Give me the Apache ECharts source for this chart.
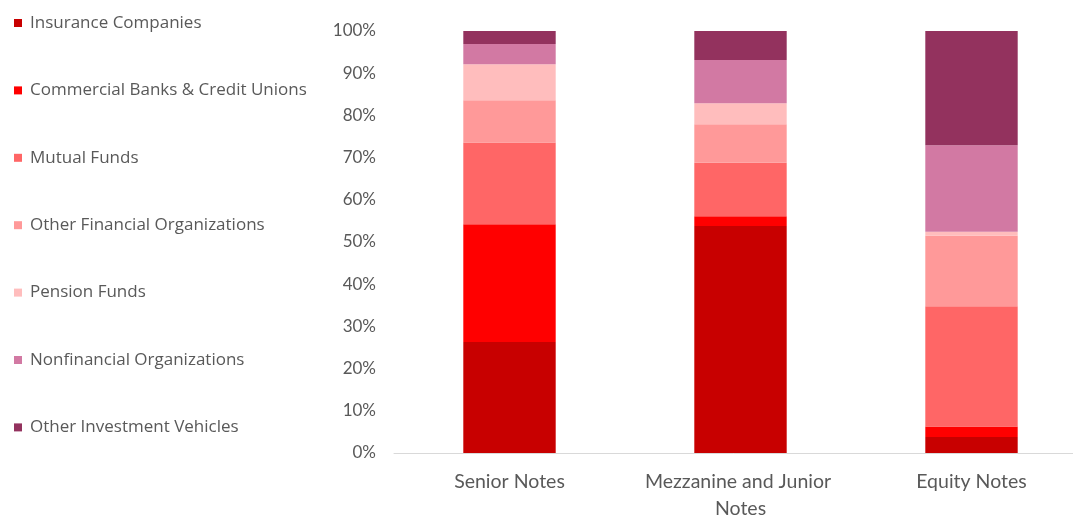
<!DOCTYPE html>
<html>
<head>
<meta charset="utf-8">
<script src="https://cdn.jsdelivr.net/npm/echarts@6/dist/echarts.min.js"></script>
<style>
  html, body { margin: 0; padding: 0; background: #ffffff; }
  #chart { width: 1073px; height: 515px; }
</style>
</head>
<body>
<div id="chart"></div>
<script>
// Holder shares (%) of each note class, stacked to 100%
const categories = ['Senior Notes', 'Mezzanine and Junior Notes', 'Equity Notes'];
const seriesNames = [
  'Insurance Companies',
  'Commercial Banks & Credit Unions',
  'Mutual Funds',
  'Other Financial Organizations',
  'Pension Funds',
  'Nonfinancial Organizations',
  'Other Investment Vehicles'
];
const insurance     = [26.3, 53.8, 3.8];
const commercial    = [27.9, 2.3, 2.5];
const mutualFunds   = [19.4, 12.7, 28.5];
const otherFinance  = [10.0, 9.1, 16.7];
const pension       = [8.5, 5.0, 0.9];
const nonfinancial  = [4.8, 10.2, 20.5];
const otherVehicles = [3.1, 6.9, 27.1];
const yTicks = [0, 10, 20, 30, 40, 50, 60, 70, 80, 90, 100];

const seriesValues = [insurance, commercial, mutualFunds, otherFinance, pension, nonfinancial, otherVehicles];
const colors = ['#c80000', '#ff0000', '#ff6666', '#ff9999', '#ffbdbd', '#d279a3', '#93325e'];

const chart = echarts.init(document.getElementById('chart'));
chart.setOption({
  animation: false,
  color: colors,
  legend: {
    orient: 'vertical',
    left: 9,
    top: 8,
    itemWidth: 8,
    itemHeight: 8,
    itemGap: 47.4,
    icon: 'rect',
    data: seriesNames,
    textStyle: {
      fontFamily: 'Open Sans',
      fontSize: 17,
      lineHeight: 20,
      color: '#595959',
      padding: [0, 0, 0, 3]
    }
  },
  grid: {
    left: 394, top: 31, right: -14, bottom: 62,
    containLabel: false,
    outerBoundsMode: 'none'
  },
  xAxis: {
    type: 'category',
    data: categories,
    axisTick: { show: false },
    axisLine: { lineStyle: { color: '#d9d9d9', width: 1 } },
    axisLabel: {
      fontFamily: 'Lato',
      fontSize: 19.5,
      color: '#595959',
      margin: 15,
      lineHeight: 27,
      width: 215,
      overflow: 'break',
      interval: 0
    }
  },
  yAxis: {
    type: 'value',
    min: 0,
    max: 100,
    interval: 10,
    splitLine: { show: false },
    axisLine: { show: false },
    axisTick: { show: false },
    axisLabel: {
      fontFamily: 'Lato',
      fontSize: 17,
      color: '#595959',
      margin: 18,
      formatter: v => (yTicks.includes(v) ? v + '%' : '')
    }
  },
  series: seriesNames.map((name, i) => ({
    name,
    type: 'bar',
    stack: 'share',
    barWidth: '40%',
    data: seriesValues[i]
  }))
});
</script>
</body>
</html>
